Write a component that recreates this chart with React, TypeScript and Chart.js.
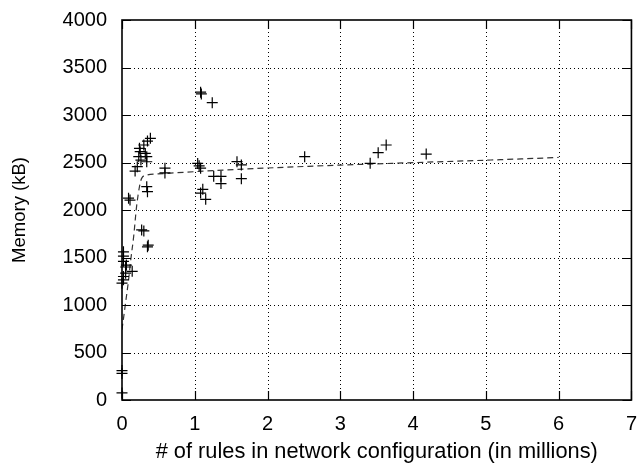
import React, { useEffect, useRef } from "react";
import { Chart, registerables } from "chart.js";

Chart.register(...registerables);

// Measured data: x = rules (millions), y = memory (kB)
const pointX = [
  0.39, 0.35, 0.30, 0.24, 0.25, 0.32, 0.23, 0.34, 0.26, 0.34, 0.21, 0.18, 0.59, 0.59,
  0.34, 0.35, 0.09, 0.11, 0.30, 0.27, 0.36, 0.35, 0.02, 0.02, 0.02, 0.06, 0.05, 0.14,
  0.05, 0.02, 0.02, 0.00, 0.00, 0.00, 0.00, 1.08, 1.09, 1.24, 1.04, 1.06, 1.08, 1.58,
  1.64, 1.26, 1.36, 1.36, 1.64, 1.11, 1.08, 1.15, 2.51, 3.41, 3.52, 3.63, 4.18,
];
const pointY = [
  2754, 2726, 2684, 2649, 2614, 2596, 2561, 2561, 2526, 2508, 2456, 2410, 2440, 2390,
  2246, 2193, 2125, 2105, 1780, 1790, 1630, 1612, 1560, 1515, 1460, 1420, 1400, 1355,
  1335, 1300, 1265, 1230, 310, 280, 75, 3240, 3222, 3130, 2490, 2465, 2440, 2509,
  2474, 2355, 2355, 2278, 2330, 2218, 2178, 2112, 2561, 2491, 2603, 2684, 2589,
];

// Fitted curve
const fitX = [0.0, 0.045, 0.09, 0.12, 0.16, 0.2, 0.24, 0.27, 0.34, 0.48, 6.0];
const fitY = [740, 1000, 1263, 1474, 1719, 2035, 2246, 2333, 2368, 2379, 2553];

const xTitle = "# of rules in network configuration (in millions)";
const yTitle = "Memory (kB)";

const FONT = "'Liberation Sans', Arial, Helvetica, sans-serif";

const framePlugin = {
  id: "gnuframe",
  beforeDatasetsDraw(chart: any) {
    const { ctx, chartArea, scales } = chart;
    const { left, right, top, bottom } = chartArea;
    const xs = scales.x;
    const ys = scales.y;
    ctx.save();
    ctx.strokeStyle = "#000";
    ctx.lineWidth = 1;
    ctx.setLineDash([1, 3]);
    xs.ticks.forEach((t: any) => {
      if (t.value <= xs.min || t.value >= xs.max) return;
      const px = Math.round(xs.getPixelForValue(t.value)) + 0.5;
      ctx.beginPath();
      ctx.moveTo(px, top);
      ctx.lineTo(px, bottom);
      ctx.stroke();
    });
    ys.ticks.forEach((t: any) => {
      if (t.value <= ys.min || t.value >= ys.max) return;
      const py = Math.round(ys.getPixelForValue(t.value)) + 0.5;
      ctx.beginPath();
      ctx.moveTo(left, py);
      ctx.lineTo(right, py);
      ctx.stroke();
    });
    ctx.restore();
  },
  afterDatasetsDraw(chart: any) {
    const { ctx, chartArea, scales } = chart;
    const { left, right, top, bottom } = chartArea;
    const xs = scales.x;
    const ys = scales.y;
    const len = 9;
    ctx.save();
    ctx.strokeStyle = "#000";
    ctx.setLineDash([]);
    ctx.lineWidth = 1.2;
    xs.ticks.forEach((t: any) => {
      const px = Math.round(xs.getPixelForValue(t.value)) + 0.5;
      ctx.beginPath();
      ctx.moveTo(px, bottom);
      ctx.lineTo(px, bottom - len);
      ctx.moveTo(px, top);
      ctx.lineTo(px, top + len);
      ctx.stroke();
    });
    ys.ticks.forEach((t: any) => {
      const py = Math.round(ys.getPixelForValue(t.value)) + 0.5;
      ctx.beginPath();
      ctx.moveTo(left, py);
      ctx.lineTo(left + len, py);
      ctx.moveTo(right, py);
      ctx.lineTo(right - len, py);
      ctx.stroke();
    });
    ctx.lineWidth = 1.6;
    ctx.strokeRect(left, top, right - left, bottom - top);
    ctx.restore();
  },
};

// Canvas is slightly larger than the viewport so the plot area lands where the reference has it.
const CANVAS_W = 649;
const CANVAS_H = 473;
const CANVAS_TOP = -7;

export default function App() {
  const ref = useRef<HTMLCanvasElement>(null);

  useEffect(() => {
    if (!ref.current) return;
    Chart.defaults.font.family = FONT;
    Chart.defaults.font.size = 20;
    Chart.defaults.color = "#000";

    const points = pointX.map((x, i) => ({ x, y: pointY[i] }));
    const fit = fitX.map((x, i) => ({ x, y: fitY[i] }));

    const chart = new Chart(ref.current, {
      type: "scatter",
      data: {
        datasets: [
          {
            data: points,
            pointStyle: "cross",
            pointRadius: 5.5,
            pointBorderWidth: 1.2,
            borderColor: "#000",
            backgroundColor: "#000",
            showLine: false,
            clip: false,
          } as any,
          {
            data: fit,
            showLine: true,
            pointRadius: 0,
            borderColor: "#333",
            borderWidth: 1.2,
            borderDash: [6, 4],
            cubicInterpolationMode: "monotone",
            fill: false,
          } as any,
        ],
      },
      options: {
        responsive: false,
        animation: false,
        layout: { padding: { left: 0, right: 0, top: 0, bottom: 0 } },
        plugins: {
          legend: { display: false },
          tooltip: { enabled: false },
        },
        scales: {
          x: {
            type: "linear",
            min: 0,
            max: 7,
            grid: { display: false, drawTicks: false },
            border: { display: false },
            ticks: {
              stepSize: 1,
              padding: 12,
              maxRotation: 0,
              callback: (v: any) => String(v),
            },
            title: {
              display: true,
              text: xTitle,
              font: { size: 21.8 },
              padding: { top: 0, bottom: 1 },
            },
            afterFit: (s: any) => {
              s.height = 66;
            },
          },
          y: {
            type: "linear",
            min: 0,
            max: 4000,
            grid: { display: false, drawTicks: false },
            border: { display: false },
            ticks: {
              stepSize: 500,
              padding: 15,
              callback: (v: any) => String(v),
            },
            title: {
              display: true,
              text: yTitle,
              font: { size: 18.5 },
              padding: { top: 9, bottom: 0 },
            },
            afterFit: (s: any) => {
              s.width = 122;
            },
          },
        },
      },
      plugins: [framePlugin],
    });
    return () => chart.destroy();
  }, []);

  return (
    <div
      style={{
        position: "fixed",
        left: 0,
        top: 0,
        width: 644,
        height: 466,
        overflow: "hidden",
        background: "#fff",
      }}
    >
      <canvas
        ref={ref}
        width={CANVAS_W}
        height={CANVAS_H}
        style={{ position: "absolute", left: 0, top: CANVAS_TOP, display: "block" }}
      />
    </div>
  );
}
